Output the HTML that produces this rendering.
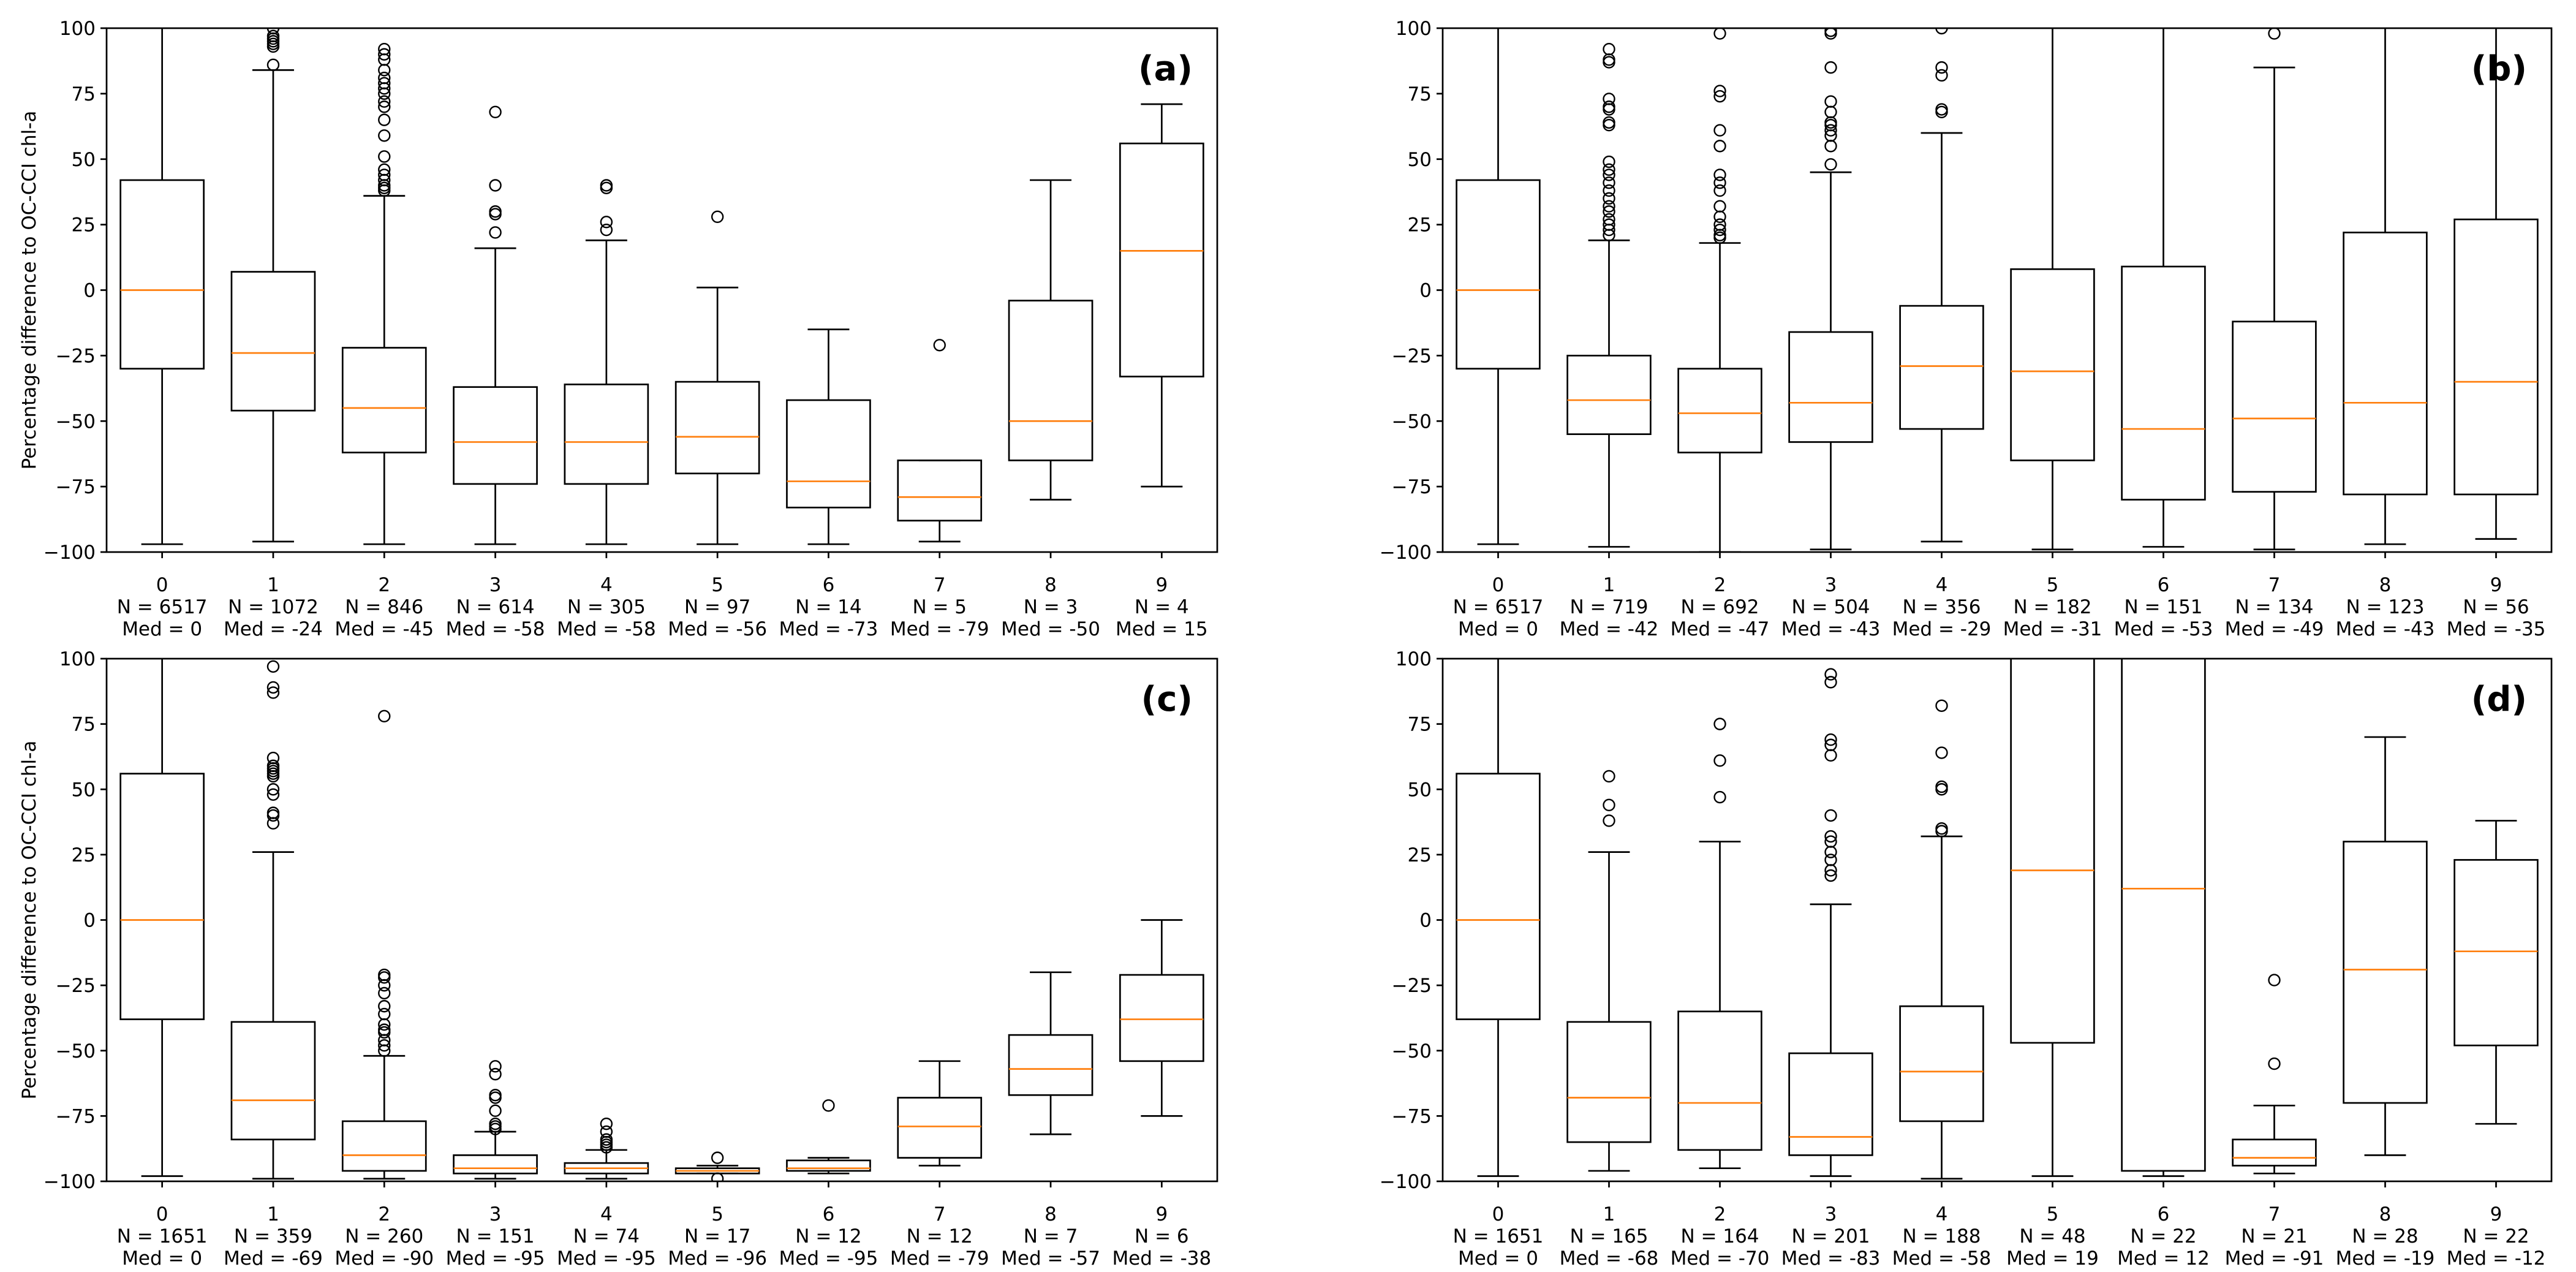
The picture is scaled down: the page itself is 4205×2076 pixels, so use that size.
<!DOCTYPE html>
<html><head><meta charset="utf-8">
<style>
html,body{margin:0;padding:0;background:#fff;}
svg{display:block;font-family:"DejaVu Sans","Liberation Sans",sans-serif;}
</style></head>
<body>
<svg id="fig" width="4205" height="2076" viewBox="0 0 4205 2076" xmlns="http://www.w3.org/2000/svg"></svg>
<script>
const yTicks = [100, 75, 50, 25, 0, -25, -50, -75, -100];
const catsA = [0,1,2,3,4,5,6,7,8,9];
// panel (a)
const nA = [6517,1072,846,614,305,97,14,5,3,4];
const medA = [0,-24,-45,-58,-58,-56,-73,-79,-50,15];
const statsA = [
 [-97,-30,0,42,150],[-96,-46,-24,7,84],[-97,-62,-45,-22,36],[-97,-74,-58,-37,16],[-97,-74,-58,-36,19],
 [-97,-70,-56,-35,1],[-97,-83,-73,-42,-15],[-96,-88,-79,-65,-65],[-80,-65,-50,-4,42],[-75,-33,15,56,71]];
const fliersA = [[],[86,93,94,95,96,97,100],[38,39,40,42,44,46,51,59,65,70,72,75,77,79,81,84,88,90,92],[22,29,30,40,68],[23,26,39,40],[28],[],[-21],[],[]];
// panel (b)
const nB = [6517,719,692,504,356,182,151,134,123,56];
const medB = [0,-42,-47,-43,-29,-31,-53,-49,-43,-35];
const statsB = [
 [-97,-30,0,42,150],[-98,-55,-42,-25,19],[-100,-62,-47,-30,18],[-99,-58,-43,-16,45],[-96,-53,-29,-6,60],
 [-99,-65,-31,8,150],[-98,-80,-53,9,150],[-99,-77,-49,-12,85],[-97,-78,-43,22,150],[-95,-78,-35,27,150]];
const fliersB = [[],[21,23,25,27,30,32,35,38,41,44,46,49,63,64,69,70,73,87,88,92],[20,21,23,25,28,32,38,41,44,55,61,74,76,98],[48,55,59,61,63,64,68,72,85,98,99],[68,69,82,85,100],[],[],[98],[],[]];
// panel (c)
const nC = [1651,359,260,151,74,17,12,12,7,6];
const medC = [0,-69,-90,-95,-95,-96,-95,-79,-57,-38];
const statsC = [
 [-98,-38,0,56,150],[-99,-84,-69,-39,26],[-99,-96,-90,-77,-52],[-99,-97,-95,-90,-81],[-99,-97,-95,-93,-88],
 [-97,-97,-96,-95,-94],[-97,-96,-95,-92,-91],[-94,-91,-79,-68,-54],[-82,-67,-57,-44,-20],[-75,-54,-38,-21,0]];
const fliersC = [[],[37,40,41,48,50,55,56,57,58,59,62,87,89,97],[-50,-48,-46,-43,-42,-40,-36,-33,-28,-25,-22,-21,78],[-80,-79,-78,-73,-68,-67,-59,-56],[-87,-86,-85,-84,-81,-78],[-91,-99],[-71],[],[],[]];
// panel (d)
const nD = [1651,165,164,201,188,48,22,21,28,22];
const medD = [0,-68,-70,-83,-58,19,12,-91,-19,-12];
const statsD = [
 [-98,-38,0,56,150],[-96,-85,-68,-39,26],[-95,-88,-70,-35,30],[-98,-90,-83,-51,6],[-99,-77,-58,-33,32],
 [-98,-47,19,130,200],[-98,-96,12,130,200],[-97,-94,-91,-84,-71],[-90,-70,-19,30,70],[-78,-48,-12,23,38]];
const fliersD = [[],[38,44,55],[47,61,75],[17,19,23,26,30,32,40,63,67,69,91,94],[34,35,50,51,64,82],[],[],[-55,-23],[],[]];

const NS = "http://www.w3.org/2000/svg";
const svg = document.getElementById('fig');
function mk(tag, attrs, parent){const e=document.createElementNS(NS,tag);for(const k in attrs)e.setAttribute(k,attrs[k]);(parent||svg).appendChild(e);return e;}
function fmt(v){return v<0?'\u2212'+Math.abs(v):String(v);}

const panels = [
 {id:'a', L:174, R:1987, T:46, B:901, n:nA, med:medA, stats:statsA, fl:fliersA, ylab:true},
 {id:'b', L:2355, R:4165, T:46, B:901, n:nB, med:medB, stats:statsB, fl:fliersB, ylab:false},
 {id:'c', L:174, R:1987, T:1075, B:1928, n:nC, med:medC, stats:statsC, fl:fliersC, ylab:true},
 {id:'d', L:2355, R:4165, T:1075, B:1928, n:nD, med:medD, stats:statsD, fl:fliersD, ylab:false}
];

panels.forEach(p=>{
  const g = mk('g',{});
  
  
  const yS = v => p.T + (100 - v) / 200 * (p.B - p.T);
  const step = (p.R - p.L) / catsA.length;
  const xS = i => p.L + step * (i + 0.5);
  const bw = step * 0.75, cw = bw / 2;
  const cp = mk('clipPath',{id:'clip-'+p.id}, g);
  mk('rect',{x:p.L,y:p.T,width:p.R-p.L,height:p.B-p.T}, cp);
  const plot = mk('g',{'clip-path':'url(#clip-'+p.id+')'}, g);
  catsA.forEach((c,i)=>{
    const s = p.stats[i], x = xS(i);
    const bg = mk('g',{}, plot);
    
    
    const st = {stroke:'#000','stroke-width':2.7,fill:'none'};
    mk('line',Object.assign({x1:x,x2:x,y1:yS(s[0]),y2:yS(s[1])},st),bg);
    mk('line',Object.assign({x1:x,x2:x,y1:yS(s[3]),y2:yS(s[4])},st),bg);
    mk('line',Object.assign({x1:x-cw/2,x2:x+cw/2,y1:yS(s[0]),y2:yS(s[0])},st),bg);
    mk('line',Object.assign({x1:x-cw/2,x2:x+cw/2,y1:yS(s[4]),y2:yS(s[4])},st),bg);
    mk('rect',Object.assign({x:x-bw/2,y:yS(s[3]),width:bw,height:yS(s[1])-yS(s[3])},st),bg);
    mk('line',{x1:x-bw/2,x2:x+bw/2,y1:yS(s[2]),y2:yS(s[2]),stroke:'#ff7f0e','stroke-width':2.7},bg);
    p.fl[i].forEach(v=>{
      const f = mk('circle',{cx:x,cy:yS(v),r:9,fill:'none',stroke:'#000','stroke-width':2.4},bg);
      
      
    });
  });
  const frame = mk('rect',{x:p.L,y:p.T,width:p.R-p.L,height:p.B-p.T,fill:'none',stroke:'#000','stroke-width':2.7},g);
  
  
  yTicks.forEach(v=>{
    mk('line',{x1:p.L-10,x2:p.L,y1:yS(v),y2:yS(v),stroke:'#000','stroke-width':2.7},g);
    const t = mk('text',{x:p.L-18,y:yS(v)+11,'text-anchor':'end','font-size':31},g);
    t.textContent = fmt(v);
    
    
  });
  catsA.forEach((c,i)=>{
    const x = xS(i);
    mk('line',{x1:x,x2:x,y1:p.B,y2:p.B+10,stroke:'#000','stroke-width':2.7},g);
    const t = mk('text',{x:x,y:p.B+64,'text-anchor':'middle','font-size':31},g);
    
    
    const l1 = mk('tspan',{x:x},t); l1.textContent = String(c);
    const l2 = mk('tspan',{x:x,dy:36},t); l2.textContent = 'N = '+p.n[i];
    const l3 = mk('tspan',{x:x,dy:36},t); l3.textContent = 'Med = '+p.med[i];
  });
  const lab = mk('text',{x:p.R-40,y:p.T+85,'text-anchor':'end','font-size':56,'font-weight':'bold'},g);
  lab.textContent = '('+p.id+')';
  
  
  if(p.ylab){
    const cy = (p.T+p.B)/2;
    const yl = mk('text',{x:48,y:cy,'text-anchor':'middle','font-size':31,transform:'rotate(-90 48 '+cy+')',dy:10},g);
    yl.textContent = 'Percentage difference to OC-CCI chl-a';
    
    
  }
});
</script>
</body></html>
